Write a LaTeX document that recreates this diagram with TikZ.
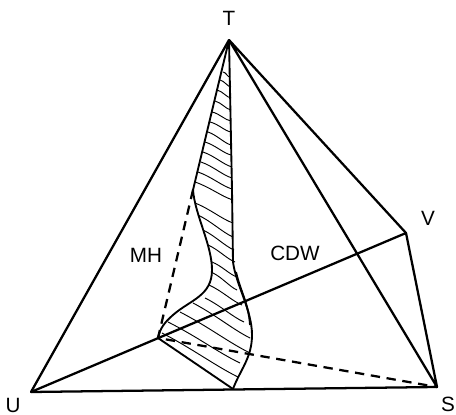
\documentclass[tikz,border=0pt]{standalone}
\usepackage{fontspec}
\setmainfont{Liberation Sans}
\usetikzlibrary{calc}
\begin{document}
\begin{tikzpicture}[x=0.02635cm,y=-0.02635cm,
  font=\fontsize{15.5}{17}\selectfont, inner sep=0pt,
  edge/.style={line width=1.7pt, line join=round},
  rim/.style={line width=1.4pt, line join=round},
  hidden/.style={line width=1.7pt, dash pattern=on 7pt off 5pt},
  hatch/.style={line width=0.7pt},
]
  \useasboundingbox (0,0) rectangle (456,415);
  \coordinate (t) at (229,40);
  \coordinate (u) at (31,392);
  \coordinate (s) at (437,387);
  \coordinate (v) at (406,233);
  \coordinate (m) at (158,338);
  \coordinate (b) at (233,389);
  \coordinate (k) at (193,190);
  % labels
  \node (lt) at (229,18) {T};
  \node (lu) at (13,405) {U};
  \node (ls) at (448,404) {S};
  \node (lv) at (428,218) {V};
  \node (lmh) at (146,255) {MH};
  \node (lcdw) at (295,253) {CDW};
  % tetrahedron
  \draw[edge] (t) -- (u) -- (s) -- (v) -- (t) -- (s);
  \draw[edge] (u) -- (v);
  \draw[hidden] (k) -- (m) -- (s);
  % band
  \draw[rim] (t) -- (k) .. controls (195,215) and (212,245) .. (212,270)
    .. controls (212,296) and (190,300) .. (173,315)
    .. controls (165,322) and (160,328) .. (m) -- (b);
  \draw[rim] (t) -- (232,190) -- (233,262)
    .. controls (236,285) and (252,310) .. (252,335)
    .. controls (252,358) and (240,370) .. (b);
  \draw[rim] (236,272) .. controls (240,290) and (249,305) .. (250,325);
  % hatching
  \foreach \xa/\ya/\xb/\yb in {223/72/230/77,220/80/231/87,217/90/231/98,
    215/101/231/110,212/112/231/121,210/122/231/132,208/132/231/145,
    205/142/231/155,203/152/232/167,201/162/232/178,198/172/232/189,
    195/182/233/200,195/203/233/223,198/215/233/237,203/230/234/250,
    208/245/235/262,212/262/237/277,213/273/237/290,209/285/242/305,
    205/298/244/322,193/303/250/338,180/312/250/353,168/322/240/363,
    162/333/238/377}
    \draw[hatch] (\xa,\ya) .. controls ($(\xa,\ya)!0.4!(\xb,\yb)+(0,-2)$) and ($(\xa,\ya)!0.7!(\xb,\yb)+(0,2)$) .. (\xb,\yb);
\end{tikzpicture}
\end{document}
